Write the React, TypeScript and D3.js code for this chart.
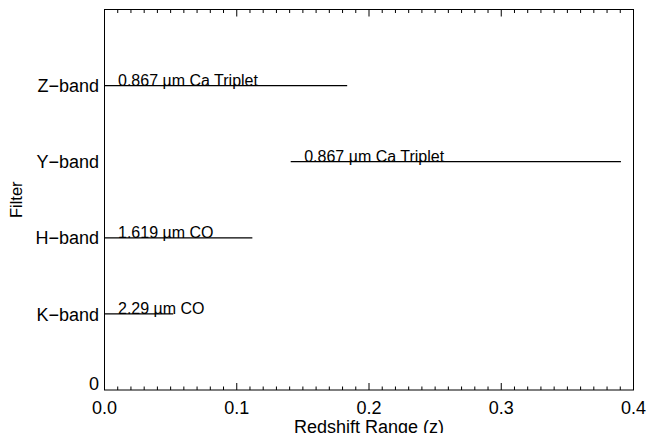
import React from "react";
import * as d3 from "d3";

const bandLabels = ["K\u2212band", "H\u2212band", "Y\u2212band", "Z\u2212band"];
const bandValues = [1, 2, 3, 4];
const featureLabels = ["2.29 \u00b5m CO", "1.619 \u00b5m CO", "0.867 \u00b5m Ca Triplet", "0.867 \u00b5m Ca Triplet"];
const zMin = [0, 0, 0.1408, 0];
const zMax = [0.052, 0.1118, 0.3905, 0.1835];
const xMajorTicks = [0, 0.1, 0.2, 0.3, 0.4];
const xTickLabels = ["0.0", "0.1", "0.2", "0.3", "0.4"];

const W = 647;
const H = 433;
const FONT = "'Liberation Sans', Arial, Helvetica, sans-serif";

export default function App() {
  const x = d3.scaleLinear().domain([0, 0.4]).range([104.5, 633.5]);
  const y = d3.scaleLinear().domain([0, 5]).range([390, 9.5]);
  const minor = d3.range(0, 41).map((i) => i / 100);
  const isMajor = (v: number) => Math.abs(v * 10 - Math.round(v * 10)) < 1e-6;
  const [x0, x1] = x.range();
  const [yb, yt] = y.range();

  return (
    <svg
      width={W}
      height={H}
      style={{ position: "absolute", left: 0, top: 0, background: "#fff" }}
      fontFamily={FONT}
    >
      <rect x={0} y={0} width={W} height={H} fill="#fff" />
      {/* frame */}
      <rect x={x0} y={yt} width={x1 - x0} height={yb - yt} fill="none" stroke="#000" strokeWidth={1} />
      {/* x ticks bottom & top */}
      {minor.map((v, i) => {
        const len = isMajor(v) ? 7 : 3.5;
        const px = x(v);
        return (
          <g key={i}>
            <line x1={px} x2={px} y1={yb} y2={yb - len} stroke="#000" strokeWidth={1} />
            <line x1={px} x2={px} y1={yt} y2={yt + len} stroke="#000" strokeWidth={1} />
          </g>
        );
      })}
      {xMajorTicks.map((v, i) => (
        <text key={i} x={x(v)} y={413.5} fontSize={18} textAnchor="middle" fill="#000">
          {xTickLabels[i]}
        </text>
      ))}
      {/* y tick labels */}
      <text x={99} y={y(0)} fontSize={18} textAnchor="end" fill="#000">
        0
      </text>
      {bandValues.map((v, i) => (
        <text key={i} x={99} y={y(v)} dy="0.37em" fontSize={18} textAnchor="end" fill="#000">
          {bandLabels[i]}
        </text>
      ))}
      {/* ranges */}
      {bandValues.map((v, i) => (
        <g key={i}>
          <line x1={x(zMin[i])} x2={x(zMax[i])} y1={y(v)} y2={y(v)} stroke="#000" strokeWidth={1.2} />
          <text x={x(zMin[i] + 0.0102)} y={y(v) + 0.5} fontSize={16} fill="#000">
            {featureLabels[i]}
          </text>
        </g>
      ))}
      {/* axis titles */}
      <text x={(x0 + x1) / 2} y={432.5} fontSize={18} textAnchor="middle" fill="#000">
        Redshift Range (z)
      </text>
      <text
        transform={`translate(21.5, ${(yb + yt) / 2}) rotate(-90)`}
        fontSize={16.5}
        textAnchor="middle"
        fill="#000"
      >
        Filter
      </text>
    </svg>
  );
}
